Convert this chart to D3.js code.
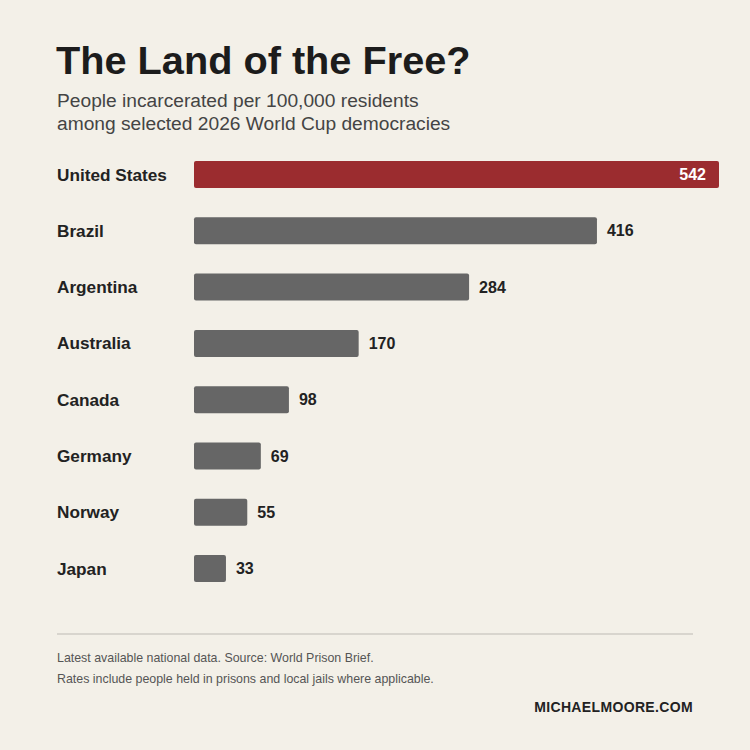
<!DOCTYPE html>
<html>
<head>
<meta charset="UTF-8">
<title>The Land of the Free?</title>
<style>
  body { margin: 0; background: #f3f0e8; }
  svg { display: block; }
  text { font-family: "Liberation Sans", Arial, Helvetica, sans-serif; }
  .title { font-size: 39.7px; font-weight: bold; fill: #1c1c1c; }
  .subtitle { font-size: 19.2px; fill: #444; }
  .country { font-size: 17.2px; font-weight: bold; fill: #222; }
  .value { font-size: 16px; font-weight: bold; fill: #222; }
  .note { font-size: 12.4px; fill: #555; }
  .brand { font-size: 14px; font-weight: bold; fill: #222; letter-spacing: 0.35px; }
</style>
</head>
<body>
<svg id="chart" width="750" height="750"></svg>
<script src="https://cdn.jsdelivr.net/npm/d3@7"></script>
<script>
// data
var countries = ["United States", "Brazil", "Argentina", "Australia", "Canada", "Germany", "Norway", "Japan"];
var rates = [542, 416, 284, 170, 98, 69, 55, 33];
var highlight = "United States";
var notes = ["Latest available national data. Source: World Prison Brief.",
             "Rates include people held in prisons and local jails where applicable."];

var svg = d3.select("#chart");
svg.append("rect").attr("width", 750).attr("height", 750).attr("fill", "#f3f0e8");

svg.append("text").attr("class", "title").attr("x", 56).attr("y", 74).text("The Land of the Free?");
svg.append("text").attr("class", "subtitle").attr("x", 57).attr("y", 107).text("People incarcerated per 100,000 residents");
svg.append("text").attr("class", "subtitle").attr("x", 57).attr("y", 130).text("among selected 2026 World Cup democracies");

var x = d3.scaleLinear().domain([0, 542]).range([194, 719]);
var y = d3.scaleBand().domain(countries).range([161, 582.1]).paddingInner(0.52).paddingOuter(0);

var rows = svg.append("g").selectAll("g")
    .data(countries.map((c, i) => ({name: c, value: rates[i]})))
    .join("g");

rows.append("text")
    .attr("class", "country")
    .attr("x", 57)
    .attr("y", d => y(d.name) + y.bandwidth() / 2)
    .attr("dy", "0.35em")
    .text(d => d.name);

rows.append("rect")
    .attr("x", x(0))
    .attr("y", d => y(d.name))
    .attr("width", d => x(d.value) - x(0))
    .attr("height", y.bandwidth())
    .attr("rx", 2)
    .attr("fill", d => d.name === highlight ? "#9b2c2f" : "#666666");

rows.append("text")
    .attr("class", "value")
    .attr("x", d => d.name === highlight ? x(d.value) - 13 : x(d.value) + 10)
    .attr("y", d => y(d.name) + y.bandwidth() / 2)
    .attr("dy", "0.35em")
    .attr("text-anchor", d => d.name === highlight ? "end" : "start")
    .style("fill", d => d.name === highlight ? "#fff" : "#222")
    .text(d => d.value);

svg.append("line")
    .attr("x1", 57).attr("x2", 693)
    .attr("y1", 634).attr("y2", 634)
    .attr("stroke", "#bdbab3").attr("stroke-width", 1.2);

svg.selectAll(".note").data(notes).join("text")
    .attr("class", "note")
    .attr("x", 57)
    .attr("y", (d, i) => 662 + i * 21)
    .text(d => d);

svg.append("text").attr("class", "brand")
    .attr("x", 693).attr("y", 712)
    .attr("text-anchor", "end")
    .text("MICHAELMOORE.COM");
</script>
</body>
</html>
